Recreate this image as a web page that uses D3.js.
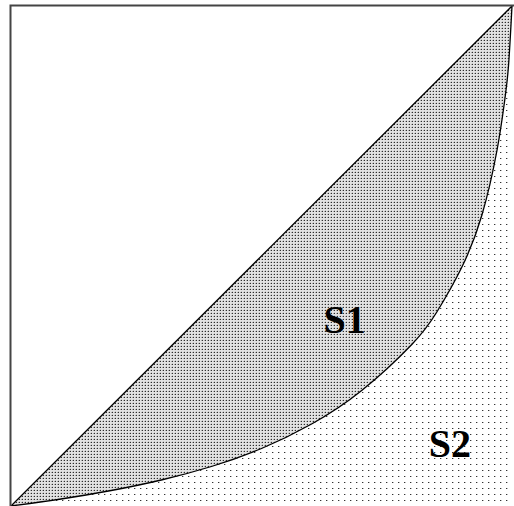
<!DOCTYPE html>
<html lang="en">
<head>
    <meta charset="UTF-8">
    <title>Lorenz curve S1 S2</title>
    <style>
        body { margin: 0; background: #fff; }
        svg { display: block; }
        .label {
          font-family: "Liberation Serif", "DejaVu Serif", serif;
          font-weight: bold;
          font-size: 40px;
          fill: #000;
        }
    </style>
</head>
<body>
    <svg width="514" height="506"></svg>

    <script src="https://d3js.org/d3.v7.min.js"></script>
    <script>
        // cumulative share of population (x) and of income (y)
        var shareX = [0, 0.1, 0.2, 0.3, 0.4, 0.5, 0.6, 0.7, 0.8, 0.85, 0.9, 0.94, 0.97, 0.985, 0.993, 1];
        var shareY = [0, 0.014, 0.031, 0.052, 0.079, 0.115, 0.164, 0.231, 0.323, 0.388, 0.478, 0.582, 0.711, 0.808, 0.88, 1];

        var areaLabels = ["S1", "S2"];
        var labelPos = [[0.624, 0.346], [0.834, 0.098]];

        var svg = d3.select("svg");

        var x = d3.scaleLinear().domain([0, 1]).range([11, 512]);
        var y = d3.scaleLinear().domain([0, 1]).range([506, 6]);

        var pts = shareX.map(function(d, i) { return {x: d, y: shareY[i]}; });

        // fill patterns
        var defs = svg.append("defs");
        var dense = defs.append("pattern")
            .attr("id", "dense")
            .attr("patternUnits", "userSpaceOnUse")
            .attr("width", 3).attr("height", 3);
        dense.append("rect").attr("width", 3).attr("height", 3).attr("fill", "#e2e2e2");
        dense.append("rect").attr("x", 1).attr("y", 1).attr("width", 1).attr("height", 1).attr("fill", "#2e2e2e");
        dense.append("rect").attr("x", 0).attr("y", 1).attr("width", 1).attr("height", 1).attr("fill", "#aaa");
        dense.append("rect").attr("x", 1).attr("y", 0).attr("width", 1).attr("height", 1).attr("fill", "#c8c8c8");

        var sparse = defs.append("pattern")
            .attr("id", "sparse")
            .attr("patternUnits", "userSpaceOnUse")
            .attr("width", 6).attr("height", 6);
        sparse.append("rect").attr("width", 6).attr("height", 6).attr("fill", "#fff");
        sparse.append("rect").attr("x", 2).attr("y", 2).attr("width", 1).attr("height", 1).attr("fill", "#333");
        sparse.append("rect").attr("x", 3).attr("y", 2).attr("width", 1).attr("height", 1).attr("fill", "#bbb");

        var curve = d3.curveNatural;

        // S2: under the curve
        var areaS2 = d3.area()
            .x(function(d) { return x(d.x); })
            .y0(y(0))
            .y1(function(d) { return y(d.y); })
            .curve(curve);

        svg.append("path")
            .datum(pts)
            .attr("d", areaS2)
            .attr("fill", "url(#sparse)");

        // S1: between equality line and curve
        var areaS1 = d3.area()
            .x(function(d) { return x(d.x); })
            .y0(function(d) { return y(d.x); })
            .y1(function(d) { return y(d.y); })
            .curve(curve);

        svg.append("path")
            .datum(pts)
            .attr("d", areaS1)
            .attr("fill", "url(#dense)");

        var line = d3.line()
            .x(function(d) { return x(d.x); })
            .y(function(d) { return y(d.y); })
            .curve(curve);

        svg.append("path")
            .datum(pts)
            .attr("d", line)
            .attr("fill", "none")
            .attr("stroke", "#000")
            .attr("stroke-width", 1.3);

        svg.append("line")
            .attr("x1", x(0)).attr("y1", y(0))
            .attr("x2", x(1)).attr("y2", y(1))
            .attr("stroke", "#000")
            .attr("stroke-width", 1.3);

        // frame (top and left)
        svg.append("path")
            .attr("d", "M" + (x(0) - 0.5) + "," + 506 + "V" + (y(1) - 0.5) + "H514")
            .attr("fill", "none")
            .attr("stroke", "#444")
            .attr("stroke-width", 2);

        svg.selectAll("text.label")
            .data(areaLabels)
            .enter().append("text")
            .attr("class", "label")
            .attr("x", function(d, i) { return x(labelPos[i][0]); })
            .attr("y", function(d, i) { return y(labelPos[i][1]); })
            .text(function(d) { return d; });
    </script>
</body>
</html>
